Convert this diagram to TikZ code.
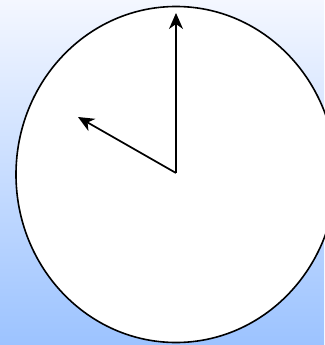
\documentclass[tikz,border=0pt]{standalone}
\usetikzlibrary{shapes.geometric,arrows.meta}
\definecolor{bgtop}{RGB}{244,247,255}
\definecolor{bgbot}{RGB}{156,195,255}
\tikzset{
  face/.style={ellipse, draw=black, line width=1.6pt, fill=white, minimum width=320pt, minimum height=336pt, inner sep=0pt},
  hand/.style={draw=black, line width=1.7pt, -{Stealth[length=16pt,width=14pt,inset=5pt]}}
}
\begin{document}
\begin{tikzpicture}[x=1pt,y=-1pt]
\useasboundingbox (0,0) rectangle (324,345);
\shade[top color=bgtop, bottom color=bgbot] (0,0) rectangle (324,345);
\node[face] (clock) at (176,174.5) {};
\coordinate (ctr) at (176,173);
\coordinate (twelve) at (176,13);
\coordinate (ten) at (78,117);
\draw[hand] (ctr) -- (twelve);
\draw[hand] (ctr) -- (ten);
\end{tikzpicture}
\end{document}
